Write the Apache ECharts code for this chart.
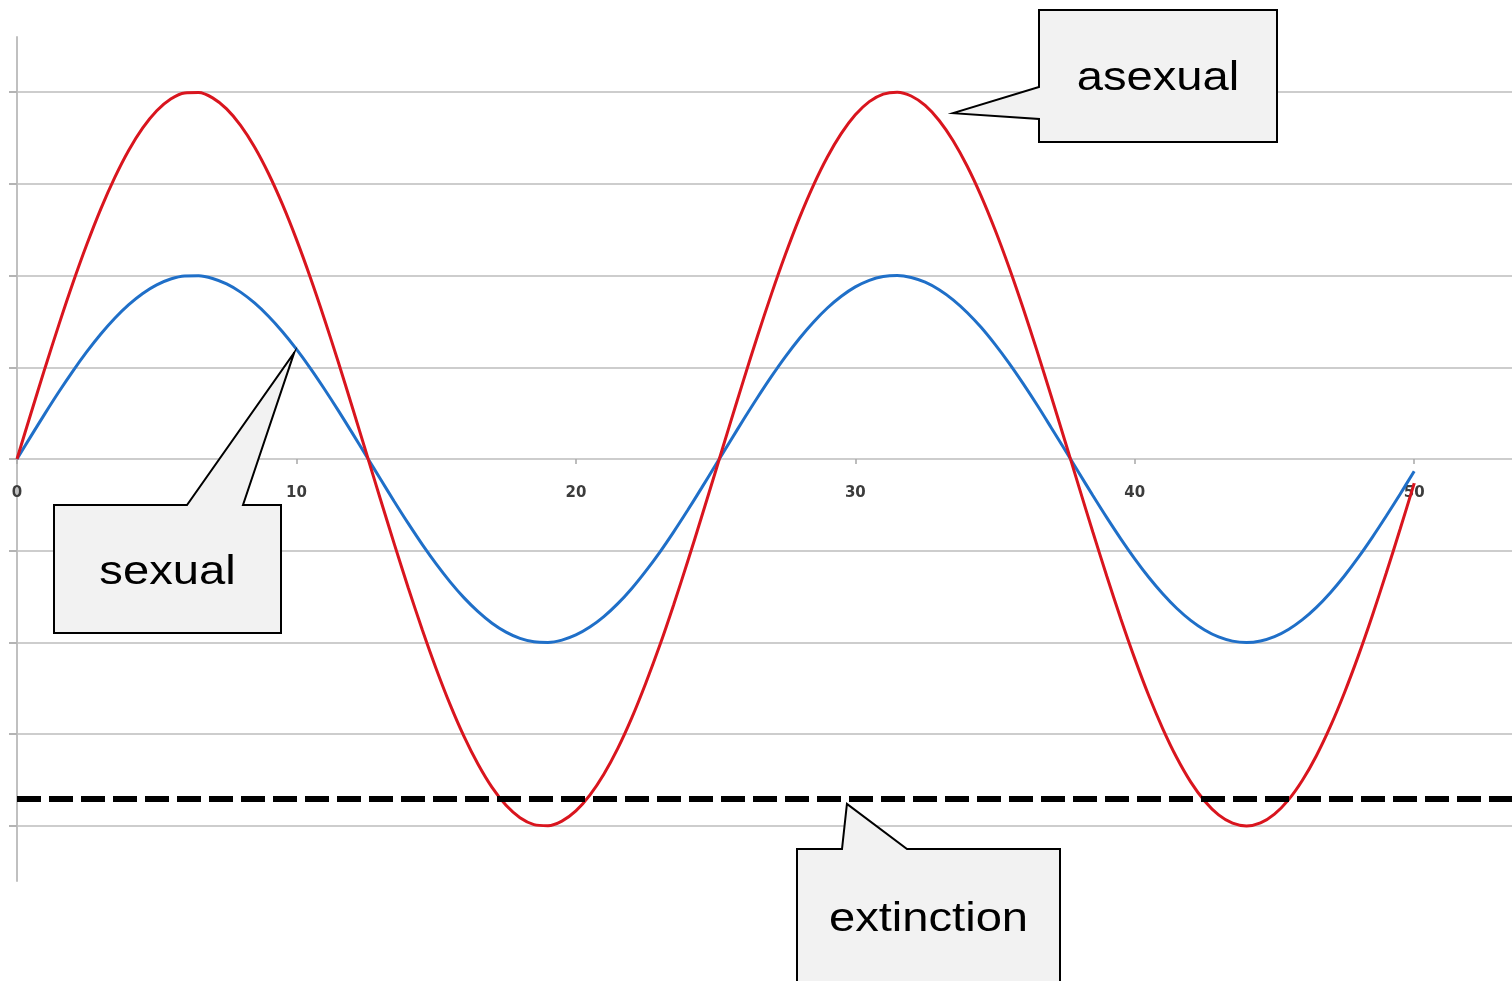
<!DOCTYPE html>
<html>
<head>
<meta charset="utf-8">
<title>sexual vs asexual population cycles</title>
<script src="https://cdn.jsdelivr.net/npm/echarts@6/dist/echarts.min.js"></script>
<style>
  html, body { margin: 0; padding: 0; background: #fff; }
  #chart { width: 1512px; height: 981px; }
</style>
</head>
<body>
<div id="chart"></div>
<script>
// generations along the x axis (half-generation steps)
const generations = [
  0, 0.5, 1, 1.5, 2, 2.5, 3, 3.5, 4, 4.5, 5, 5.5, 6, 6.5, 7, 7.5, 8, 8.5, 9, 9.5,
  10, 10.5, 11, 11.5, 12, 12.5, 13, 13.5, 14, 14.5, 15, 15.5, 16, 16.5, 17, 17.5, 18, 18.5, 19, 19.5,
  20, 20.5, 21, 21.5, 22, 22.5, 23, 23.5, 24, 24.5, 25, 25.5, 26, 26.5, 27, 27.5, 28, 28.5, 29, 29.5,
  30, 30.5, 31, 31.5, 32, 32.5, 33, 33.5, 34, 34.5, 35, 35.5, 36, 36.5, 37, 37.5, 38, 38.5, 39, 39.5,
  40, 40.5, 41, 41.5, 42, 42.5, 43, 43.5, 44, 44.5, 45, 45.5, 46, 46.5, 47, 47.5, 48, 48.5, 49, 49.5,
  50
];

// population swing of the asexual lineage
const asexual = [
  0, 0.499, 0.990, 1.465, 1.918, 2.340, 2.727, 3.070, 3.366, 3.609,
  3.796, 3.924, 3.990, 3.994, 3.936, 3.816, 3.637, 3.401, 3.112, 2.775,
  2.394, 1.976, 1.527, 1.054, 0.564, 0.066, -0.433, -0.925, -1.403, -1.859,
  -2.286, -2.678, -3.027, -3.328, -3.580, -3.775, -3.910, -3.985, -3.997, -3.947,
  -3.836, -3.664, -3.436, -3.154, -2.822, -2.444, -2.034, -1.588, -1.118, -0.630,
  -0.133, 0.367, 0.860, 1.341, 1.800, 2.231, 2.628, 2.983, 3.292, 3.549,
  3.752, 3.896, 3.978, 3.999, 3.957, 3.854, 3.690, 3.469, 3.194, 2.869,
  2.499, 2.090, 1.648, 1.181, 0.695, 0.199, -0.301, -0.796, -1.278, -1.741,
  -2.176, -2.578, -2.938, -3.254, -3.519, -3.728, -3.880, -3.970, -4.000, -3.967,
  -3.871, -3.716, -3.502, -3.234, -2.915, -2.550, -2.146, -1.708, -1.243, -0.761,
  -0.265
];

// population swing of the sexual lineage
const sexual = [
  0, 0.249, 0.495, 0.733, 0.959, 1.170, 1.363, 1.535, 1.683, 1.805,
  1.898, 1.962, 1.995, 1.997, 1.968, 1.908, 1.819, 1.701, 1.556, 1.387,
  1.197, 0.988, 0.763, 0.527, 0.282, 0.033, -0.216, -0.463, -0.702, -0.930,
  -1.143, -1.339, -1.514, -1.664, -1.790, -1.887, -1.955, -1.992, -1.999, -1.974,
  -1.918, -1.832, -1.718, -1.577, -1.411, -1.222, -1.017, -0.794, -0.559, -0.315,
  -0.066, 0.183, 0.430, 0.670, 0.900, 1.116, 1.314, 1.491, 1.646, 1.774,
  1.876, 1.948, 1.989, 2.000, 1.979, 1.927, 1.845, 1.735, 1.597, 1.435,
  1.249, 1.045, 0.824, 0.591, 0.347, 0.100, -0.150, -0.398, -0.639, -0.870,
  -1.088, -1.289, -1.469, -1.627, -1.759, -1.864, -1.940, -1.985, -2.000, -1.983,
  -1.936, -1.858, -1.751, -1.617, -1.457, -1.275, -1.073, -0.854, -0.622, -0.381,
  -0.133
];

// extinction threshold
const extinctionLevel = -3.7;

// tick positions
const xTicks = [0, 10, 20, 30, 40, 50];
const yTicks = [-4, -3, -2, -1, 0, 1, 2, 3, 4];

const toPairs = (xs, ys) => xs.map((x, i) => [x, ys[i]]);

// plot frame
const GRID_TOP = 37, GRID_BOTTOM = 100, CHART_H = 981;
const Y_MIN = -4.6, Y_MAX = 4.6;
const plotH = CHART_H - GRID_TOP - GRID_BOTTOM;
const zeroPx = GRID_TOP + plotH * Y_MAX / (Y_MAX - Y_MIN);
const xAxisOffset = -((CHART_H - GRID_BOTTOM) - zeroPx); // lift the x axis up to y = 0

const chart = echarts.init(document.getElementById('chart'), null, { renderer: 'canvas' });

const gridColor = '#cdcdcd';

chart.setOption({
  animation: false,
  backgroundColor: '#ffffff',
  grid: { left: 17, right: 0, top: GRID_TOP, bottom: GRID_BOTTOM, outerBoundsMode: 'none' },
  xAxis: {
    type: 'value',
    position: 'bottom',
    offset: xAxisOffset,
    min: 0,
    max: 53.5,
    interval: 10,
    axisLine: { show: false, onZero: false },
    axisTick: {
      show: true, length: 5, customValues: xTicks,
      lineStyle: { color: '#a8a8a8', width: 1.5 }
    },
    axisLabel: {
      show: true,
      customValues: xTicks,
      margin: 27,
      color: '#3c3c3c',
      fontSize: 15,
      fontWeight: 'bold',
      fontFamily: 'DejaVu Sans',
      formatter: v => String(v)
    },
    splitLine: { show: false }
  },
  yAxis: {
    type: 'value',
    min: Y_MIN,
    max: Y_MAX,
    axisLine: { show: true, lineStyle: { color: '#c0c0c0', width: 2 } },
    axisTick: {
      show: true, length: 8, customValues: yTicks,
      lineStyle: { color: '#b4b4b4', width: 2 }
    },
    axisLabel: { show: false, customValues: yTicks },
    splitLine: { show: true, lineStyle: { color: gridColor, width: 2 } }
  },
  series: [
    {
      name: 'sexual',
      type: 'line',
      data: toPairs(generations, sexual),
      smooth: 0.3,
      showSymbol: false,
      lineStyle: { color: '#1f6fc8', width: 3 },
      z: 3
    },
    {
      name: 'asexual',
      type: 'line',
      data: toPairs(generations, asexual),
      smooth: 0.3,
      showSymbol: false,
      lineStyle: { color: '#d9151e', width: 3 },
      z: 4,
      markLine: {
        silent: true,
        symbol: 'none',
        label: { show: false },
        lineStyle: { color: '#000000', width: 6, type: [24, 8] },
        data: [{ yAxis: extinctionLevel }]
      }
    }
  ]
});

// callout boxes with a pointer aimed at a spot on the chart
const callouts = [
  { text: 'asexual', box: [1039, 10, 1277, 142], side: 'left', base: [87, 119], anchor: [33.5, 3.77], textY: 79 },
  { text: 'sexual', box: [54, 505, 281, 633], side: 'top', base: [187, 243], anchor: [9.92, 1.16], textY: 573 },
  { text: 'extinction', box: [797, 849, 1060, 1000], side: 'top', base: [842, 907], anchor: [29.7, -3.76], textY: 920 }
];

function calloutPoints(c, tip) {
  const [x0, y0, x1, y1] = c.box;
  if (c.side === 'left') {
    return [[x0, y0], [x1, y0], [x1, y1], [x0, y1], [x0, c.base[1]], tip, [x0, c.base[0]]];
  }
  return [[x0, y0], [c.base[0], y0], tip, [c.base[1], y0], [x1, y0], [x1, y1], [x0, y1]];
}

const graphics = [];
callouts.forEach(c => {
  const tip = chart.convertToPixel({ gridIndex: 0 }, c.anchor);
  graphics.push({
    type: 'polygon',
    shape: { points: calloutPoints(c, tip) },
    style: { fill: '#f2f2f2', stroke: '#000000', lineWidth: 2, lineJoin: 'miter' },
    z: 100
  });
  graphics.push({
    type: 'text',
    x: (c.box[0] + c.box[2]) / 2,
    y: c.textY,
    scaleX: 1.15,
    style: {
      text: c.text,
      x: 0, y: 0,
      fill: '#000000',
      font: '41px "Liberation Sans", Arial, sans-serif',
      align: 'center',
      verticalAlign: 'middle'
    },
    z: 101
  });
});

chart.setOption({ graphic: graphics });
</script>
</body>
</html>
